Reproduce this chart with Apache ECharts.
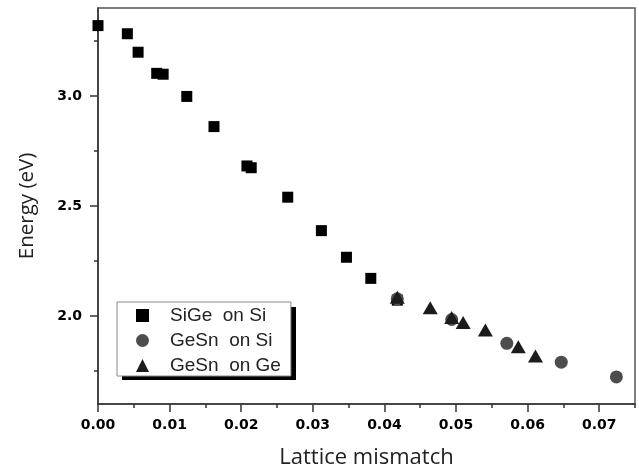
<!DOCTYPE html>
<html>
<head>
<meta charset="utf-8">
<script src="https://cdn.jsdelivr.net/npm/echarts@6/dist/echarts.min.js"></script>
<style>
  html, body { margin: 0; padding: 0; background: #fff; }
  #chart { width: 639px; height: 468px; }
</style>
</head>
<body>
<div id="chart"></div>
<script>
// Band-gap energy versus lattice mismatch for SiGe and GeSn layers
const sigeMismatch = [0, 0.0041, 0.0056, 0.0082, 0.0091, 0.0124, 0.0162, 0.0208, 0.0214, 0.0265, 0.0312, 0.0347, 0.0381, 0.0418];
const sigeEnergy   = [3.32, 3.283, 3.199, 3.103, 3.099, 2.998, 2.861, 2.682, 2.674, 2.54, 2.388, 2.267, 2.171, 2.072];

const gesnSiMismatch = [0.0418, 0.0494, 0.0571, 0.0647, 0.0724];
const gesnSiEnergy   = [2.078, 1.984, 1.876, 1.79, 1.723];

const gesnGeMismatch = [0.0418, 0.0464, 0.0494, 0.0510, 0.0541, 0.0587, 0.0611];
const gesnGeEnergy   = [2.085, 2.038, 1.993, 1.97, 1.936, 1.86, 1.818];

const seriesNames = ['SiGe  on Si', 'GeSn  on Si', 'GeSn  on Ge'];

const xMajorTicks = [0, 0.01, 0.02, 0.03, 0.04, 0.05, 0.06, 0.07];
const xMinorTicks = [0.005, 0.015, 0.025, 0.035, 0.045, 0.055, 0.065, 0.075];
const yMajorTicks = [2.0, 2.5, 3.0];
const yMinorTicks = [1.75, 2.25, 2.75, 3.25];

const xMin = 0, xMax = 0.075;
const yMin = 1.6, yMax = 3.4;

const pairs = (xs, ys) => xs.map((x, i) => [x, ys[i]]);

const labelFont = { fontFamily: 'DejaVu Sans', fontWeight: 'bold', fontSize: 14, color: '#000' };
const axisLine = { show: true, lineStyle: { color: '#333', width: 1.5 } };

// legend box geometry (the drop shadow sits behind it)
const legendBox = { left: 117, top: 302, width: 174, height: 73, shadow: 5 };

const chart = echarts.init(document.getElementById('chart'), null, { renderer: 'canvas' });

chart.setOption({
  backgroundColor: '#fff',
  animation: false,
  grid: {
    left: 98, right: 4, top: 8, bottom: 64,
    outerBoundsMode: 'none', containLabel: false,
    show: true, borderColor: '#555', borderWidth: 1.5, backgroundColor: 'transparent'
  },
  graphic: [{
    type: 'rect', z: 1,
    left: legendBox.left + legendBox.shadow, top: legendBox.top + legendBox.shadow,
    shape: { width: legendBox.width, height: legendBox.height },
    style: { fill: '#000' }
  }],
  legend: {
    orient: 'vertical', z: 5,
    left: legendBox.left, top: legendBox.top,
    data: seriesNames,
    itemWidth: 13, itemHeight: 13, itemGap: 6,
    padding: [4, 10, 1, 19],
    backgroundColor: '#fff',
    borderColor: '#888', borderWidth: 1,
    textStyle: { fontFamily: 'Liberation Sans', fontSize: 19, color: '#222', padding: [0, 0, 0, 16] }
  },
  xAxis: [
    {
      type: 'value', min: xMin, max: xMax, position: 'bottom',
      name: 'Lattice mismatch', nameLocation: 'middle', nameGap: 43,
      nameTextStyle: { fontFamily: 'Open Sans', fontSize: 22, color: '#222' },
      axisLine: axisLine,
      axisTick: { show: true, length: 8, lineStyle: { color: '#333', width: 1.5 }, customValues: xMajorTicks },
      axisLabel: Object.assign({ margin: 14, customValues: xMajorTicks, formatter: v => v.toFixed(2) }, labelFont),
      splitLine: { show: false }
    },
    {
      type: 'value', min: xMin, max: xMax, position: 'bottom',
      axisLine: { show: false },
      axisTick: { show: true, length: 4, lineStyle: { color: '#333', width: 1.5 }, customValues: xMinorTicks },
      axisLabel: { show: false },
      splitLine: { show: false }
    }
  ],
  yAxis: [
    {
      type: 'value', min: yMin, max: yMax, position: 'left',
      name: 'Energy (eV)', nameLocation: 'middle', nameGap: 60,
      nameTextStyle: { fontFamily: 'Open Sans', fontSize: 20.5, color: '#222' },
      axisLine: axisLine,
      axisTick: { show: true, length: 8, lineStyle: { color: '#333', width: 1.5 }, customValues: yMajorTicks },
      axisLabel: Object.assign({ margin: 16, customValues: yMajorTicks, formatter: v => v.toFixed(1) }, labelFont),
      splitLine: { show: false }
    },
    {
      type: 'value', min: yMin, max: yMax, position: 'left',
      axisLine: { show: false },
      axisTick: { show: true, length: 4, lineStyle: { color: '#333', width: 1.5 }, customValues: yMinorTicks },
      axisLabel: { show: false },
      splitLine: { show: false }
    }
  ],
  series: [
    {
      name: seriesNames[0], type: 'scatter', xAxisIndex: 0, yAxisIndex: 0,
      symbol: 'rect', symbolSize: 11,
      itemStyle: { color: '#000', opacity: 1 },
      data: pairs(sigeMismatch, sigeEnergy)
    },
    {
      name: seriesNames[1], type: 'scatter', xAxisIndex: 0, yAxisIndex: 0,
      symbol: 'circle', symbolSize: 13,
      itemStyle: { color: '#4d4d4d', opacity: 1 },
      data: pairs(gesnSiMismatch, gesnSiEnergy)
    },
    {
      name: seriesNames[2], type: 'scatter', xAxisIndex: 0, yAxisIndex: 0,
      symbol: 'triangle', symbolSize: [15, 13],
      itemStyle: { color: '#1c1c1c', opacity: 1 },
      data: pairs(gesnGeMismatch, gesnGeEnergy)
    }
  ]
});
</script>
</body>
</html>
